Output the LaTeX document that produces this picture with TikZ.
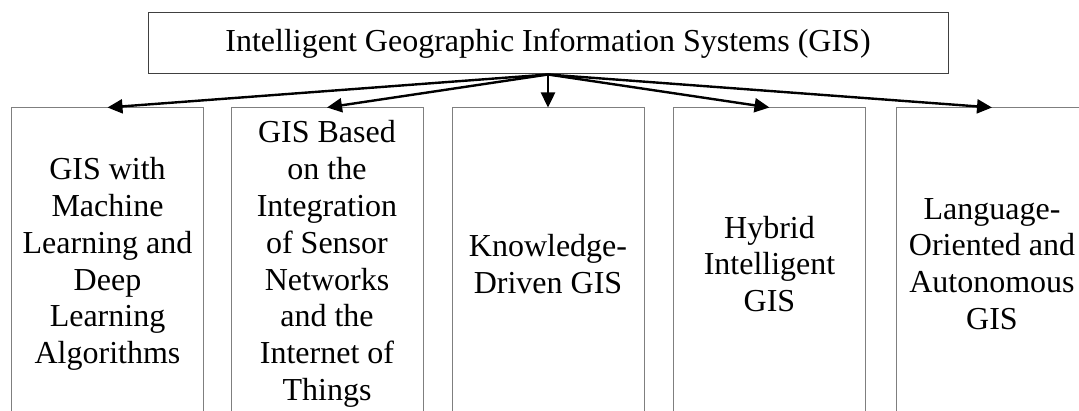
\documentclass[tikz,border=0pt]{standalone}
\usepackage{fontspec}
\setmainfont{Liberation Serif}
\definecolor{gisEdge}{HTML}{7F7F7F}
\definecolor{gisTop}{HTML}{404040}
\usetikzlibrary{arrows.meta, positioning}

\begin{document}
\begin{tikzpicture}[x=0.5pt, y=-0.5pt,
  root/.style={draw=gisTop, line width=0.5pt, minimum width=400pt,
    minimum height=30.5pt, inner sep=0pt,
    font=\fontsize{16}{18.4}\selectfont},
  branch/.style={draw=gisEdge, line width=0.5pt, minimum width=96pt,
    minimum height=156pt, inner sep=0pt, align=center,
    font=\fontsize{16}{18.4}\selectfont},
  link/.style={-{Triangle[length=7.5pt, width=7pt]}, line width=1.2pt, black}]
  \clip (0,0) rectangle (1079,411);
  \fill[white] (0,0) rectangle (1079,411);
  \node[root] (gis) at (548,43.5) {Intelligent Geographic Information Systems (GIS)};
  \node[branch] (ml) at (107.5,264) {GIS with\\Machine\\Learning and\\Deep\\Learning\\Algorithms};
  \node[branch] (iot) at (327,264) {GIS Based\\on the\\Integration\\of Sensor\\Networks\\and the\\Internet of\\Things};
  \node[branch] (kd) at (548,264) {Knowledge-\\Driven GIS};
  \node[branch] (hyb) at (769.5,264) {Hybrid\\Intelligent\\GIS};
  \node[branch] (lang) at (992,264) {Language-\\Oriented and\\Autonomous\\GIS};
  \draw[link] (gis.south) -- (ml.north);
  \draw[link] (gis.south) -- (iot.north);
  \draw[link] (gis.south) -- (kd.north);
  \draw[link] (gis.south) -- (hyb.north);
  \draw[link] (gis.south) -- (lang.north);
\end{tikzpicture}
\end{document}
